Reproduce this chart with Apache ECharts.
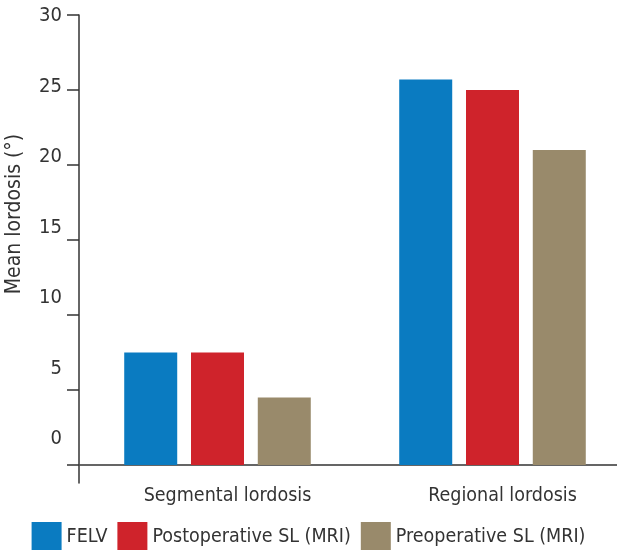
<!DOCTYPE html>
<html>
<head>
<meta charset="utf-8">
<script src="https://cdn.jsdelivr.net/npm/echarts@6/dist/echarts.min.js"></script>
<style>html,body{margin:0;padding:0;background:#fff}#c{width:617px;height:550px}</style>
</head>
<body>
<div id="c"></div>
<script>
var categories = ['Segmental lordosis', 'Regional lordosis'];
var felv = [7.5, 25.7];
var postSL = [7.5, 25.0];
var preSL = [4.5, 21.0];
var yTickValues = [0, 5, 10, 15, 20, 25, 30];
var seriesNames = ['FELV', 'Postoperative SL (MRI)', 'Preoperative SL (MRI)'];

var FONT = '"DejaVu Sans Condensed", "Liberation Sans Narrow", sans-serif';
var TXT = '#333';
var chart = echarts.init(document.getElementById('c'));
chart.setOption({
  animation: false,
  textStyle: { fontFamily: FONT },
  color: ['#0a7bc1', '#cf232b', '#998a6b'],
  legend: {
    left: 'center', top: 517, itemWidth: 30, itemHeight: 30, itemGap: 10,
    icon: 'rect',
    textStyle: { fontFamily: FONT, fontSize: 19.5, color: TXT },
    data: seriesNames
  },
  grid: { left: 80, width: 550, top: 15, bottom: 67, outerBoundsMode: 'none', containLabel: false },
  xAxis: {
    type: 'category', data: categories,
    axisLine: { onZero: true, lineStyle: { color: TXT, width: 1.5 } },
    axisTick: { show: false },
    axisLabel: { fontFamily: FONT, fontSize: 19.5, color: TXT, margin: 3, padding: [0, 0, 0, 20] }
  },
  yAxis: [{
    type: 'value', min: -1.2, max: 30, offset: 1,
    name: 'Mean lordosis (°)', nameLocation: 'middle', nameRotate: 90, nameGap: 54,
    nameTextStyle: { fontFamily: FONT, fontSize: 21, color: TXT, padding: [0, 0, 0, 70] },
    axisLine: { show: true, lineStyle: { color: TXT, width: 1.5 } },
    axisTick: { show: true, inside: false, length: 12, customValues: yTickValues, lineStyle: { color: TXT, width: 1.5 } },
    axisLabel: { show: false },
    splitLine: { show: false }
  }, {
    type: 'value', position: 'left', min: -3.1207, max: 30.071, offset: 1,
    axisLine: { show: false }, axisTick: { show: false }, splitLine: { show: false },
    axisLabel: { fontFamily: FONT, fontSize: 20, color: TXT, margin: 17, customValues: yTickValues }
  }],
  series: [
    { name: seriesNames[0], type: 'bar', data: felv, barWidth: 53, barGap: '26%' },
    { name: seriesNames[1], type: 'bar', data: postSL, barWidth: 53, barGap: '26%' },
    { name: seriesNames[2], type: 'bar', data: preSL, barWidth: 53, barGap: '26%' }
  ]
});
</script>
</body>
</html>
